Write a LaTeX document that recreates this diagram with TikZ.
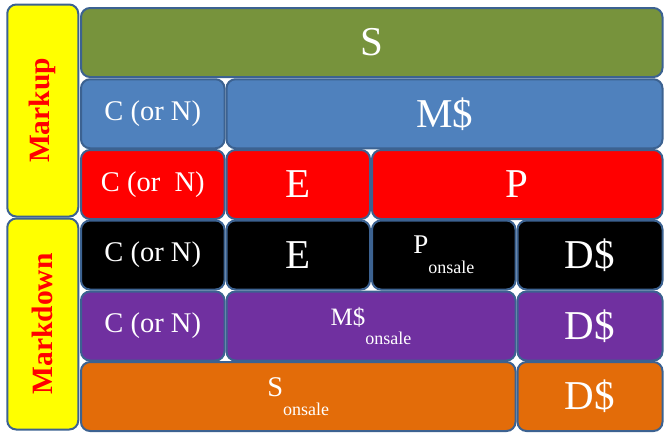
\documentclass[tikz,border=0pt]{standalone}
\usepackage{fontspec}
\setmainfont{Liberation Serif}
\newcommand\fsz[1]{\fontsize{#1}{#1}\selectfont}
\definecolor{bord}{RGB}{60,98,145}
\definecolor{cgreen}{RGB}{119,147,60}
\definecolor{cblue}{RGB}{79,129,189}
\definecolor{cred}{RGB}{255,0,0}
\definecolor{cpurple}{RGB}{112,48,160}
\definecolor{corange}{RGB}{227,108,9}
\definecolor{cyellow}{RGB}{255,255,0}
\begin{document}
\begin{tikzpicture}[x=1pt,y=-1pt,
  cell/.style={draw=bord, line width=2pt, rounded corners=9pt, inner sep=0pt, text=white, font=\fsz{28.5}},
  big/.style={font=\fsz{41}},
  side/.style={cell, fill=cyellow, rotate=90, text=red, font=\bfseries\fsz{29.5}},
  w1/.style={minimum width=143.5pt},
  w2/.style={minimum width=289pt},
  w3/.style={minimum width=434.5pt},
  w4/.style={minimum width=145pt},
  h/.style={minimum height=69pt}
]
\useasboundingbox (0,0) rectangle (669,440);
% side labels
\node[side, minimum width=212pt, minimum height=71pt] (markup) at (42.75,110.5) {Markup};
\node[side, minimum width=211pt, minimum height=71pt] (markdown) at (42.75,324) {Markdown};
% row 1
\node[cell, big, fill=cgreen, minimum width=581.5pt, h] (s) at (371.75,42.5) {S};
% row 2
\node[cell, fill=cblue, w1, h] (c2) at (152.75,113.75) {C (or N)};
\node[cell, big, fill=cblue, minimum width=436pt, h] (m2) at (444.5,113.75) {M\$};
% row 3
\node[cell, fill=cred, w1, h] (c3) at (152.75,184.5) {C (or~~N)};
\node[cell, big, fill=cred, w1, h] (e3) at (298.25,184.5) {E};
\node[cell, big, fill=cred, minimum width=290.5pt, h] (p3) at (517.25,184.5) {P};
% row 4
\node[cell, fill=black, w1, h] (c4) at (152.75,255) {C (or N)};
\node[cell, big, fill=black, w1, h] (e4) at (298.25,255) {E};
\node[cell, fill=black, w1, h, font=\fsz{27}] (p4) at (443.75,255) {P\raisebox{-20pt}{\fsz{18}onsale}};
\node[cell, big, fill=black, w4, h] (d4) at (590,255) {D\$};
% row 5
\node[cell, fill=cpurple, w1, h] (c5) at (152.75,326) {C (or N)};
\node[cell, fill=cpurple, w2, h, font=\fsz{25}] (m5) at (371,326) {M\$\raisebox{-19pt}{\fsz{18}onsale}};
\node[cell, big, fill=cpurple, w4, h] (d5) at (590,326) {D\$};
% row 6
\node[cell, fill=corange, w3, h] (s6) at (298.25,396.5) {S\raisebox{-19pt}{\fsz{18}onsale}};
\node[cell, big, fill=corange, w4, h] (d6) at (590,396.5) {D\$};
\end{tikzpicture}
\end{document}
